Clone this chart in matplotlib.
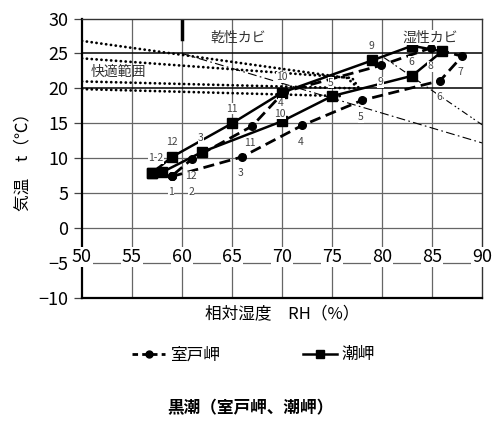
import matplotlib
matplotlib.use("Agg")
import matplotlib.pyplot as plt
from matplotlib.lines import Line2D

plt.rcParams['font.family'] = ['Noto Sans CJK JP', 'DejaVu Sans']

# monthly mean values, Jan..Dec
rh_muroto = [59, 59, 66, 72, 78, 85.8, 88, 84.9, 79.9, 70.2, 67, 61]
t_muroto = [7.5, 7.4, 10.2, 14.7, 18.3, 21.1, 24.6, 25.8, 23.3, 19.5, 14.6, 9.9]
rh_shiono = [57, 58, 62, 70, 75, 83, 86, 83, 79, 70, 65, 59]
t_shiono = [7.9, 8.0, 10.9, 15.3, 18.9, 21.8, 25.3, 26.1, 24.0, 19.4, 15.0, 10.2]

# month labels as they sit in the picture (text, RH, t)
month_labels = [
    ("1-2", 57.4, 10.0), ("12", 59.0, 12.3), ("3", 61.9, 12.9), ("11", 65.0, 17.1),
    ("1", 58.9, 5.2), ("2", 60.9, 5.2), ("12", 60.9, 7.4), ("3", 65.9, 7.9),
    ("11", 66.8, 12.2), ("10", 70.0, 21.6), ("4", 69.9, 17.9), ("10", 69.8, 16.4),
    ("4", 71.9, 12.3), ("5", 74.9, 20.8), ("5", 77.9, 15.9), ("9", 78.9, 26.0),
    ("9", 79.8, 20.9), ("6", 82.9, 23.8), ("8", 84.8, 23.2), ("7", 87.8, 22.3),
    ("6", 85.7, 18.8),
]

# comfort zone (dotted) boundaries
comfort_rh = [[50, 76.5, 77.5], [50, 77.0, 77.7], [50, 77.5], [50, 76.0]]
comfort_t = [[26.8, 21.5, 20.2], [24.3, 21.5, 20.0], [21.0, 20.0], [19.9, 18.9]]
# mould boundaries
dry_rh, dry_t = [60, 90], [25.0, 12.2]
wet_rh, wet_t = [80.2, 90], [24.4, 14.8]

xticks = list(range(50, 91, 5))
yticks = list(range(-10, 31, 5))

fig = plt.figure(figsize=(4.97, 4.21), dpi=100)
ax = fig.add_axes([0.165, 0.292, 0.805, 0.664])
ax.set_xlim(50, 90)
ax.set_ylim(-10, 30)

for x in xticks[1:-1]:
    ax.axvline(x, color='#666666', lw=0.9, zorder=1)
for y in yticks[1:-1]:
    c, w = ('black', 1.1) if y in (20, 25) else ('#666666', 0.9)
    ax.axhline(y, color=c, lw=w, zorder=1)
ax.plot([60, 60], [27, 30], color='black', lw=2.5, zorder=2)

for xs, ys in zip(comfort_rh, comfort_t):
    ax.plot(xs, ys, color='black', lw=2.0, ls=(0, (0.05, 1.7)), dash_capstyle='round',
            zorder=2)
ax.plot(dry_rh, dry_t, color='black', lw=0.8, ls=(0, (8, 3, 1.5, 3)), zorder=2)
ax.plot(wet_rh, wet_t, color='black', lw=0.8, ls=(0, (6, 3, 1.5, 2, 1.5, 3)), zorder=2)

ax.plot(rh_muroto + rh_muroto[:1], t_muroto + t_muroto[:1], color='black', lw=2,
        ls=(0, (4, 2)), marker='o', ms=5.5, zorder=4)
ax.plot(rh_shiono + rh_shiono[:1], t_shiono + t_shiono[:1], color='black', lw=1.8,
        marker='s', ms=7, zorder=4)

for s, x, y in month_labels:
    ax.text(x, y, s, fontsize=7.5, color='#444444', ha='center', va='center', zorder=5,
            bbox=dict(boxstyle='square,pad=0.05', fc='white', ec='none'))

ax.text(65.6, 27.3, "乾性カビ", fontsize=10, color='#333333', ha='center', va='center')
ax.text(84.8, 27.3, "湿性カビ", fontsize=10, color='#333333', ha='center', va='center',
        bbox=dict(boxstyle='square,pad=0.05', fc='white', ec='none'), zorder=5)
ax.text(53.6, 22.3, "快適範囲", fontsize=10, color='#333333', ha='center', va='center')

# x tick labels sit inside the plot on the -5 line
ax.set_xticks([])
for x in xticks:
    ax.text(x, -4.1, str(x), fontsize=13, ha='center', va='center', zorder=6, clip_on=False,
            bbox=dict(boxstyle='square,pad=0.05', fc='white', ec='none'))

ax.set_yticks(yticks)
ax.set_yticklabels([str(v).replace('-', '\u2212') for v in yticks], fontsize=13)
ax.tick_params(axis='y', direction='out', length=6, width=0.9, color='#444444', pad=4)

for side in ('left', 'bottom'):
    ax.spines[side].set_linewidth(1.6)
for side in ('top', 'right'):
    ax.spines[side].set_linewidth(1.0)
    ax.spines[side].set_color('#333333')

ax.set_ylabel("気温　t（℃）", fontsize=12, labelpad=5)
ax.set_xlabel("相対湿度　RH（%）", fontsize=12, labelpad=6)

handles = [
    Line2D([], [], color='black', lw=2, ls=(0, (2, 1.5)), marker='o', ms=5),
    Line2D([], [], color='black', lw=1.8, marker='s', ms=6),
]
fig.legend(handles, ["室戸岬", "潮岬"], loc='center', bbox_to_anchor=(0.51, 0.157), ncol=2,
           frameon=False, fontsize=12, handlelength=2.0, handletextpad=0.3, columnspacing=5)
fig.text(0.503, 0.030, "黒潮（室戸岬、潮岬）", fontsize=12, weight='bold', ha='center', va='center')

fig.savefig("out.png", dpi=100)
